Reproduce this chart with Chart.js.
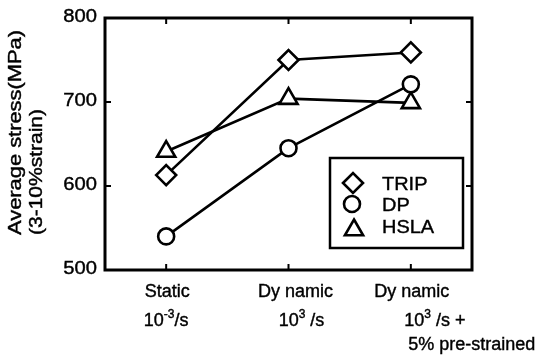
<!DOCTYPE html>
<html><head><meta charset="utf-8">
<script src="https://cdn.jsdelivr.net/npm/chart.js@4/dist/chart.umd.min.js"></script>
<style>html,body{margin:0;padding:0;background:#fff;}</style>
</head><body>
<canvas id="c" width="546" height="359"></canvas>
<script>
// ---- data ----
const categories = ['Static 10^-3/s', 'Dynamic 10^3/s', 'Dynamic 10^3/s + 5% pre-strained'];
const categoryLines = [['Static', '10^{-3}/s'], ['Dy namic', '10^{3} /s'], ['Dy namic', '10^{3} /s +', '5% pre-strained']];
const seriesNames = ['TRIP', 'DP', 'HSLA'];
const tripValues = [613, 750, 759];
const dpValues = [540, 645, 721];
const hslaValues = [641, 704, 699];
const yTicks = [500, 600, 700, 800];
const yTitleLines = ['Average stress(MPa)', '(3-10%strain)'];

// ---- styles ----
const FONT = '"Liberation Sans", Arial, Helvetica, sans-serif';
const markerStyles = [
  { pointStyle: 'rectRot', radius: 10 },
  { pointStyle: 'circle', radius: 8 },
  { pointStyle: 'triangle', radius: 10.5 }
];
const seriesValues = [tripValues, dpValues, hslaValues];
const TEXT_STROKE = 0.4;

function heavyText(ctx, text, x, y) {
  ctx.fillText(text, x, y);
  ctx.lineWidth = TEXT_STROKE;
  ctx.strokeStyle = '#000';
  ctx.strokeText(text, x, y);
}

function drawScaled(ctx, text, x, y, size, sx, align) {
  ctx.save();
  ctx.font = size + 'px ' + FONT;
  ctx.textAlign = 'left';
  const w = ctx.measureText(text).width * sx;
  const x0 = align === 'right' ? x - w : align === 'center' ? x - w / 2 : x;
  ctx.translate(x0, y);
  ctx.scale(sx, 1);
  heavyText(ctx, text, 0, 0);
  ctx.restore();
}

function parseRich(str) {
  const segs = [];
  const re = /\^\{([^}]*)\}/g;
  let last = 0, m;
  while ((m = re.exec(str))) {
    if (m.index > last) segs.push({ t: str.slice(last, m.index), sup: false });
    segs.push({ t: m[1], sup: true });
    last = re.lastIndex;
  }
  if (last < str.length) segs.push({ t: str.slice(last), sup: false });
  return segs;
}

function drawRich(ctx, str, cx, y, size) {
  const segs = parseRich(str);
  const supSize = Math.round(size * 0.65);
  let total = 0;
  segs.forEach(s => {
    ctx.font = (s.sup ? supSize : size) + 'px ' + FONT;
    s.w = ctx.measureText(s.t).width;
    total += s.w;
  });
  let x = cx - total / 2;
  ctx.textAlign = 'left';
  ctx.textBaseline = 'alphabetic';
  segs.forEach(s => {
    ctx.font = (s.sup ? supSize : size) + 'px ' + FONT;
    heavyText(ctx, s.t, x, s.sup ? y - 8 : y);
    x += s.w;
  });
}

function drawMarker(ctx, style, x, y) {
  ctx.save();
  ctx.fillStyle = '#fff';
  ctx.strokeStyle = '#000';
  ctx.lineWidth = 2.6;
  Chart.helpers.drawPoint(ctx, { pointStyle: style.pointStyle, radius: style.radius, rotation: 0, borderWidth: 2.6 }, x, y);
  ctx.restore();
}

const xLineOffsets = [[1, 0], [7, 13], [1, 24, 61]];
const xLineBaselines = [27, 56, 80];

const decor = {
  id: 'decor',
  beforeDatasetsDraw(chart) {
    const { ctx, chartArea: a, scales } = chart;
    ctx.save();
    ctx.strokeStyle = '#000';
    ctx.lineWidth = 3;
    ctx.strokeRect(a.left, a.top, a.right - a.left, a.bottom - a.top);
    ctx.lineWidth = 2;
    ctx.beginPath();
    const tl = 6;
    scales.y.ticks.forEach(t => {
      const py = scales.y.getPixelForValue(t.value);
      ctx.moveTo(a.left, py); ctx.lineTo(a.left + tl, py);
      ctx.moveTo(a.right, py); ctx.lineTo(a.right - tl, py);
    });
    categories.forEach((c, i) => {
      const px = scales.x.getPixelForValue(i);
      ctx.moveTo(px, a.top); ctx.lineTo(px, a.top + tl);
      ctx.moveTo(px, a.bottom); ctx.lineTo(px, a.bottom - tl);
    });
    ctx.stroke();
    ctx.restore();
  },
  afterDraw(chart) {
    const { ctx, chartArea: a, scales } = chart;
    ctx.save();
    ctx.fillStyle = '#000';
    // y tick labels
    ctx.textBaseline = 'middle';
    scales.y.ticks.forEach(t => {
      const py = scales.y.getPixelForValue(t.value);
      drawScaled(ctx, String(t.value), a.left - 8, py - 1, 18, 1.12, 'right');
    });
    // y title
    const titleX = [16, 37];
    const titleW = [205, 126];
    yTitleLines.forEach((line, i) => {
      ctx.save();
      ctx.translate(titleX[i], 235);
      ctx.rotate(-Math.PI / 2);
      ctx.font = '18px ' + FONT;
      const sx = titleW[i] / ctx.measureText(line).width;
      ctx.scale(sx, 1);
      ctx.textAlign = 'left';
      ctx.textBaseline = 'middle';
      heavyText(ctx, line, 0, 0);
      ctx.restore();
    });
    // x labels
    categoryLines.forEach((lines, i) => {
      const px = scales.x.getPixelForValue(i);
      lines.forEach((ln, j) => {
        drawRich(ctx, ln, px + xLineOffsets[i][j], a.bottom + xLineBaselines[j], 18);
      });
    });
    // legend
    const lx = 330, ly = 158, lw = 133, lh = 90;
    ctx.fillStyle = '#fff';
    ctx.fillRect(lx, ly, lw, lh);
    ctx.strokeStyle = '#000';
    ctx.lineWidth = 2.5;
    ctx.strokeRect(lx, ly, lw, lh);
    const rowsMarkerY = [183, 204, 230];
    const rowsTextY = [184, 205, 227];
    const markerX = [353, 352, 354];
    seriesNames.forEach((name, i) => {
      drawMarker(ctx, markerStyles[i], markerX[i], rowsMarkerY[i]);
      ctx.fillStyle = '#000';
      ctx.textBaseline = 'middle';
      drawScaled(ctx, name, 382, rowsTextY[i] + 1, 19, 1.05, 'left');
    });
    ctx.restore();
  }
};

new Chart(document.getElementById('c'), {
  type: 'line',
  data: {
    labels: categories,
    datasets: seriesNames.map((name, i) => ({
      label: name,
      data: seriesValues[i],
      borderColor: '#000',
      borderWidth: 2.6,
      tension: 0,
      fill: false,
      pointStyle: markerStyles[i].pointStyle,
      pointRadius: markerStyles[i].radius,
      pointHoverRadius: markerStyles[i].radius,
      pointBorderWidth: 2.6,
      pointBorderColor: '#000',
      pointBackgroundColor: '#fff'
    }))
  },
  options: {
    responsive: false,
    animation: false,
    events: [],
    layout: { padding: { top: 18, right: 74, left: 0, bottom: 0 } },
    plugins: { legend: { display: false }, tooltip: { enabled: false } },
    scales: {
      x: {
        type: 'category',
        offset: true,
        grid: { display: false },
        border: { display: false },
        ticks: { display: false },
        afterFit(s) { s.height = 89; }
      },
      y: {
        min: 500, max: 800,
        afterBuildTicks(s) { s.ticks = yTicks.map(v => ({ value: v })); },
        grid: { display: false },
        border: { display: false },
        ticks: { display: false },
        afterFit(s) { s.width = 105; }
      }
    }
  },
  plugins: [decor]
});
</script>
</body></html>
